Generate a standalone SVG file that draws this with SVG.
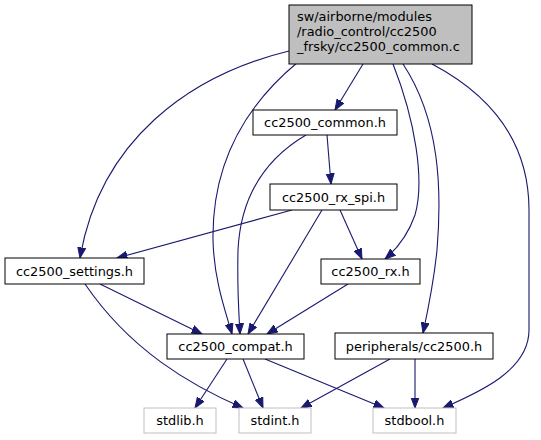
<svg xmlns="http://www.w3.org/2000/svg" width="541" height="440" viewBox="0 0 541 440">
<defs>
<style>
.n rect{fill:#ffffff;stroke:#000000;stroke-width:1}
.g rect{fill:#ffffff;stroke:#bfbfbf;stroke-width:1}
.r rect{fill:#bfbfbf;stroke:#000000;stroke-width:1}
text{font-family:"DejaVu Sans","Liberation Sans",sans-serif;font-size:12.9px;fill:#000000}
.c{text-anchor:middle}
.e path{fill:none;stroke:#191970;stroke-width:1.1;marker-end:url(#ah)}
</style>
<marker id="ah" markerUnits="userSpaceOnUse" markerWidth="11" markerHeight="9" refX="10.5" refY="4" orient="auto" viewBox="0 0 11 8">
<path d="M0,0 L10.5,4 L0,8 z" fill="#191970" stroke="#191970" stroke-width="1"/>
</marker>
</defs>
<rect width="541" height="440" fill="#ffffff"/>
<g class="e" id="edges">
<path d="M363,64 L335,110"/>
<path d="M289,51 C190,75 100,140 80,258"/>
<path d="M298,62 C240,110 212,170 213,240 C214,280 225,310 232,334"/>
<path d="M393,64 C415,120 425,180 415,215 C408,235 398,248 385,259"/>
<path d="M403,64 C440,120 442,190 437,250 C434,280 428,310 423,333"/>
<path d="M432,64 C500,100 529,150 529,210 L529,330 C529,370 480,392 443,408"/>
<path d="M306,135 C255,165 240,210 238,250 C237,290 239,315 240,334"/>
<path d="M327,135 L331,184"/>
<path d="M292,210 L117,258"/>
<path d="M322,210 L248,334"/>
<path d="M340,210 L362,259"/>
<path d="M100,284 L202,334"/>
<path d="M85,284 C130,350 190,385 243,408"/>
<path d="M348,284 L267,334"/>
<path d="M227,359 L195,408"/>
<path d="M243,359 L263,408"/>
<path d="M265,359 L384,408"/>
<path d="M390,359 L301,408"/>
<path d="M415,359 L415,408"/>
</g>
<g id="root" class="r">
<rect x="289" y="5" width="183" height="59"/>
<text x="297" y="21">sw/airborne/modules</text>
<text x="297" y="36">/radio_control/cc2500</text>
<text x="297" y="51">_frsky/cc2500_common.c</text>
</g>
<g id="cc2500_common_h" class="n">
<rect x="253" y="110" width="144" height="25"/>
<text class="c" x="325" y="127">cc2500_common.h</text>
</g>
<g id="cc2500_rx_spi_h" class="n">
<rect x="270" y="184" width="127" height="26"/>
<text class="c" x="333.5" y="201.5">cc2500_rx_spi.h</text>
</g>
<g id="cc2500_settings_h" class="n">
<rect x="5" y="258" width="139" height="26"/>
<text class="c" x="74.5" y="275.5">cc2500_settings.h</text>
</g>
<g id="cc2500_rx_h" class="n">
<rect x="321" y="259" width="99" height="25"/>
<text class="c" x="370.5" y="276">cc2500_rx.h</text>
</g>
<g id="cc2500_compat_h" class="n">
<rect x="167" y="334" width="137" height="25"/>
<text class="c" x="235.5" y="351">cc2500_compat.h</text>
</g>
<g id="peripherals_cc2500_h" class="n">
<rect x="335" y="333" width="158" height="26"/>
<text class="c" x="414" y="350.5">peripherals/cc2500.h</text>
</g>
<g id="stdlib_h" class="g">
<rect x="144" y="408" width="72" height="25"/>
<text class="c" x="180" y="425">stdlib.h</text>
</g>
<g id="stdint_h" class="g">
<rect x="239" y="408" width="72" height="25"/>
<text class="c" x="275" y="425">stdint.h</text>
</g>
<g id="stdbool_h" class="g">
<rect x="373" y="408" width="83" height="25"/>
<text class="c" x="414.5" y="425">stdbool.h</text>
</g>
</svg>
